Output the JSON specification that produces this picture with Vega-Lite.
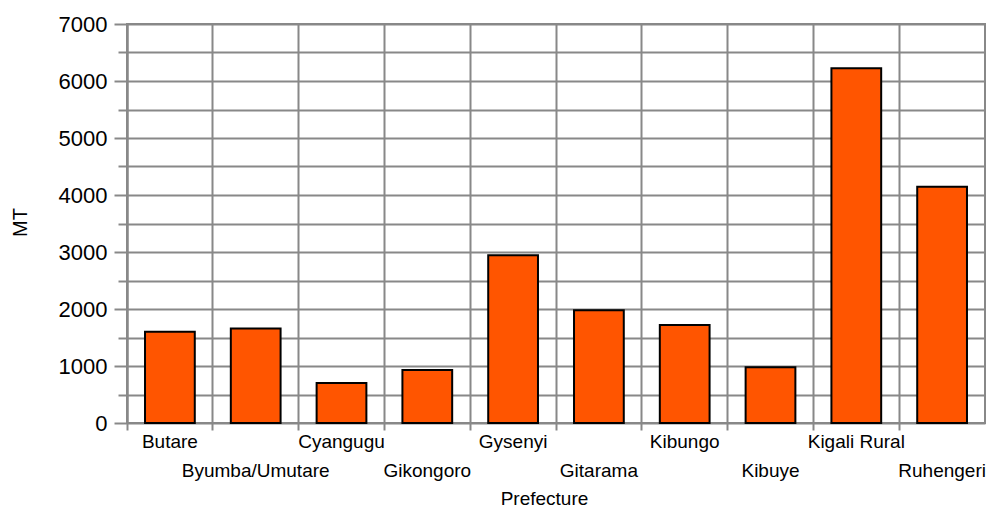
{
  "$schema": "https://vega.github.io/schema/vega-lite/v6.json",
  "autosize": {"type": "none"},
  "width": 858,
  "height": 399,
  "padding": {"left": 127, "top": 24, "right": 7, "bottom": 85},
  "background": "white",
  "config": {
    "font": "Liberation Sans",
    "view": {"stroke": "#888888", "strokeWidth": 2}
  },
  "data": {
    "values": [
      {"Prefecture": "Butare", "MT": 1600},
      {"Prefecture": "Byumba/Umutare", "MT": 1660},
      {"Prefecture": "Cyangugu", "MT": 700},
      {"Prefecture": "Gikongoro", "MT": 930},
      {"Prefecture": "Gysenyi", "MT": 2945},
      {"Prefecture": "Gitarama", "MT": 1980},
      {"Prefecture": "Kibungo", "MT": 1720},
      {"Prefecture": "Kibuye", "MT": 980},
      {"Prefecture": "Kigali Rural", "MT": 6225},
      {"Prefecture": "Ruhengeri", "MT": 4145}
    ]
  },
  "mark": {"type": "bar", "color": "#ff5500", "stroke": "black", "strokeWidth": 2, "width": {"band": 0.58}},
  "encoding": {
    "x": {
      "field": "Prefecture",
      "type": "nominal",
      "sort": null,
      "scale": {"paddingInner": 0, "paddingOuter": 0},
      "axis": {
        "title": "Prefecture",
        "titleFont": "Liberation Sans",
        "titleFontSize": 19,
        "titleFontWeight": "normal",
        "titleColor": "black",
        "titleBaseline": "alphabetic",
        "titleAlign": "center",
        "titleX": 417,
        "titleY": 81,
        "labelAngle": 0,
        "labelFont": "Liberation Sans",
        "labelFontSize": 19,
        "labelColor": "black",
        "labelBaseline": "top",
        "labelAlign": "center",
        "labelOverlap": false,
        "labelPadding": {"condition": {"test": "indexof(['Byumba/Umutare','Gikongoro','Gitarama','Kibuye','Ruhengeri'], datum.value) >= 0", "value": 31}, "value": 2},
        "bandPosition": 0,
        "grid": true,
        "gridColor": "#888888",
        "gridWidth": 2,
        "gridOpacity": 1,
        "ticks": true,
        "tickColor": "#888888",
        "tickWidth": 2,
        "tickSize": 7,
        "domain": false
      }
    },
    "y": {
      "field": "MT",
      "type": "quantitative",
      "scale": {"domain": [0, 7000], "nice": false},
      "axis": {
        "title": "MT",
        "titleFont": "Liberation Sans",
        "titleFontSize": 20,
        "titleFontWeight": "normal",
        "titleColor": "black",
        "titleX": -107,
        "titleY": 198,
        "titleAlign": "center",
        "titleBaseline": "middle",
        "values": [0, 500, 1000, 1500, 2000, 2500, 3000, 3500, 4000, 4500, 5000, 5500, 6000, 6500, 7000],
        "labelExpr": "datum.value % 1000 === 0 ? datum.value : ''",
        "labelFont": "Liberation Sans",
        "labelFontSize": 22,
        "labelColor": "black",
        "labelPadding": 7,
        "grid": true,
        "gridColor": "#888888",
        "gridWidth": 2,
        "gridOpacity": 1,
        "tickColor": "#888888",
        "tickWidth": 2,
        "tickSize": {"condition": {"test": "datum.value % 1000 === 0", "value": 13}, "value": 9},
        "domain": true,
        "domainColor": "#888888",
        "domainWidth": 2
      }
    }
  }
}
